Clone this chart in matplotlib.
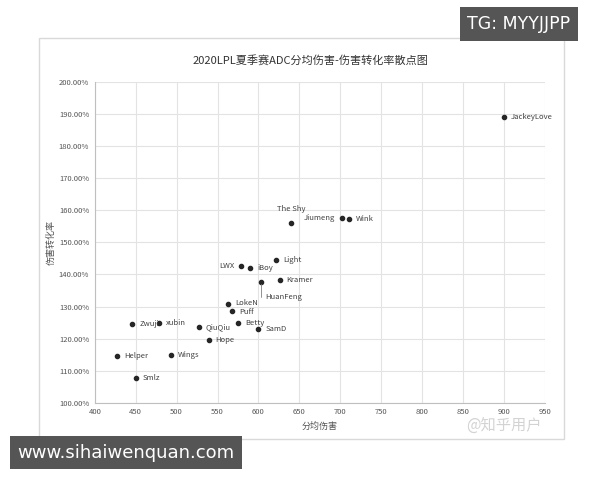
import matplotlib
matplotlib.use('Agg')
import matplotlib.pyplot as plt
from matplotlib.patches import Rectangle
from matplotlib.ticker import FuncFormatter

plt.rcParams['font.family'] = ['Noto Sans CJK SC', 'DejaVu Sans']

# 分均伤害 / 伤害转化率 (%)
players = ['JackeyLove', 'The Shy', 'Jiumeng', 'Wink', 'Light', 'LWX', 'iBoy',
           'HuanFeng', 'Kramer', 'LokeN', 'Puff', 'Betty', 'SamD', 'QiuQiu',
           'Hope', 'Zwuji', 'xubin', 'Helper', 'Wings', 'Smlz']
dpm = [900, 640, 702, 711, 622, 579, 590, 603, 626, 563, 568, 575, 600, 527,
       539, 446, 478, 427, 493, 450]
conv = [189.1, 156.1, 157.6, 157.2, 144.4, 142.7, 142.1, 137.8, 138.3, 130.7,
        128.7, 124.9, 123.1, 123.5, 119.5, 124.7, 124.9, 114.6, 114.9, 107.8]

x_ticks = list(range(400, 951, 50))
y_ticks = list(range(100, 201, 10))

fig = plt.figure(figsize=(6, 4.8), dpi=100)
fig.patch.set_facecolor('white')

# chart frame like the Excel chart area
fig.patches.append(Rectangle((0.065, 0.085), 0.875, 0.835, transform=fig.transFigure,
                             fill=False, edgecolor='#d9d9d9', linewidth=1.0))

ax = fig.add_axes([0.158, 0.161, 0.75, 0.668])
ax.scatter(dpm, conv, s=9, color='#262626', zorder=3)

ax.set_xlim(400, 950)
ax.set_ylim(100, 200)
ax.set_xticks(x_ticks)
ax.set_yticks(y_ticks)
ax.yaxis.set_major_formatter(FuncFormatter(lambda v, p: '{:.2f}%'.format(v)))
ax.grid(True, color='#e3e3e3', linewidth=0.8)
ax.set_axisbelow(True)
for s in ['top', 'right']:
    ax.spines[s].set_visible(False)
for s in ['left', 'bottom']:
    ax.spines[s].set_color('#bfbfbf')
ax.tick_params(length=0, labelsize=5.5, colors='#555555', pad=4)

left_labels = {'Jiumeng', 'LWX'}
nudge = {'LokeN': 1.2, 'Puff': -1.0}
for name, x, y in zip(players, dpm, conv):
    if name == 'The Shy':
        ax.annotate(name, (x, y), xytext=(0, 7), textcoords='offset points',
                    ha='center', va='bottom', fontsize=5.5, color='#404040')
    elif name == 'HuanFeng':
        ax.annotate(name, (x, y), xytext=(3, -11), textcoords='offset points',
                    ha='left', va='center', fontsize=5.5, color='#404040',
                    arrowprops=dict(arrowstyle='-', color='#808080', lw=0.6,
                                    relpos=(0, 0.5),
                                    connectionstyle='angle,angleA=0,angleB=90,rad=0',
                                    shrinkA=1, shrinkB=2))
    elif name in left_labels:
        ax.annotate(name, (x, y), xytext=(-5, 0), textcoords='offset points',
                    ha='right', va='center', fontsize=5.5, color='#404040')
    else:
        ax.annotate(name, (x, y), xytext=(5, nudge.get(name, 0)),
                    textcoords='offset points', ha='left', va='center',
                    fontsize=5.5, color='#404040')

ax.set_xlabel('分均伤害', fontsize=6.5, color='#555555', labelpad=4)
ax.set_ylabel('伤害转化率', fontsize=6.5, color='#555555', labelpad=2)
fig.text(0.518, 0.875, '2020LPL夏季赛ADC分均伤害-伤害转化率散点图', ha='center',
         va='center', fontsize=8, color='#333333')

# watermarks
fig.text(0.865, 0.95, 'TG: MYYJJPP', ha='center', va='center', fontsize=12.5,
         color='white', family=['DejaVu Sans'],
         bbox=dict(boxstyle='square,pad=0.45', facecolor='#555555', edgecolor='none'))
fig.text(0.21, 0.057, 'www.sihaiwenquan.com', ha='center', va='center', fontsize=13,
         color='white', family=['DejaVu Sans'],
         bbox=dict(boxstyle='square,pad=0.4', facecolor='#555555', edgecolor='none'))
fig.text(0.84, 0.115, '@知乎用户', ha='center', va='center', fontsize=11,
         color='#c8c8c8', alpha=0.8)

fig.savefig('out.png', dpi=100)
